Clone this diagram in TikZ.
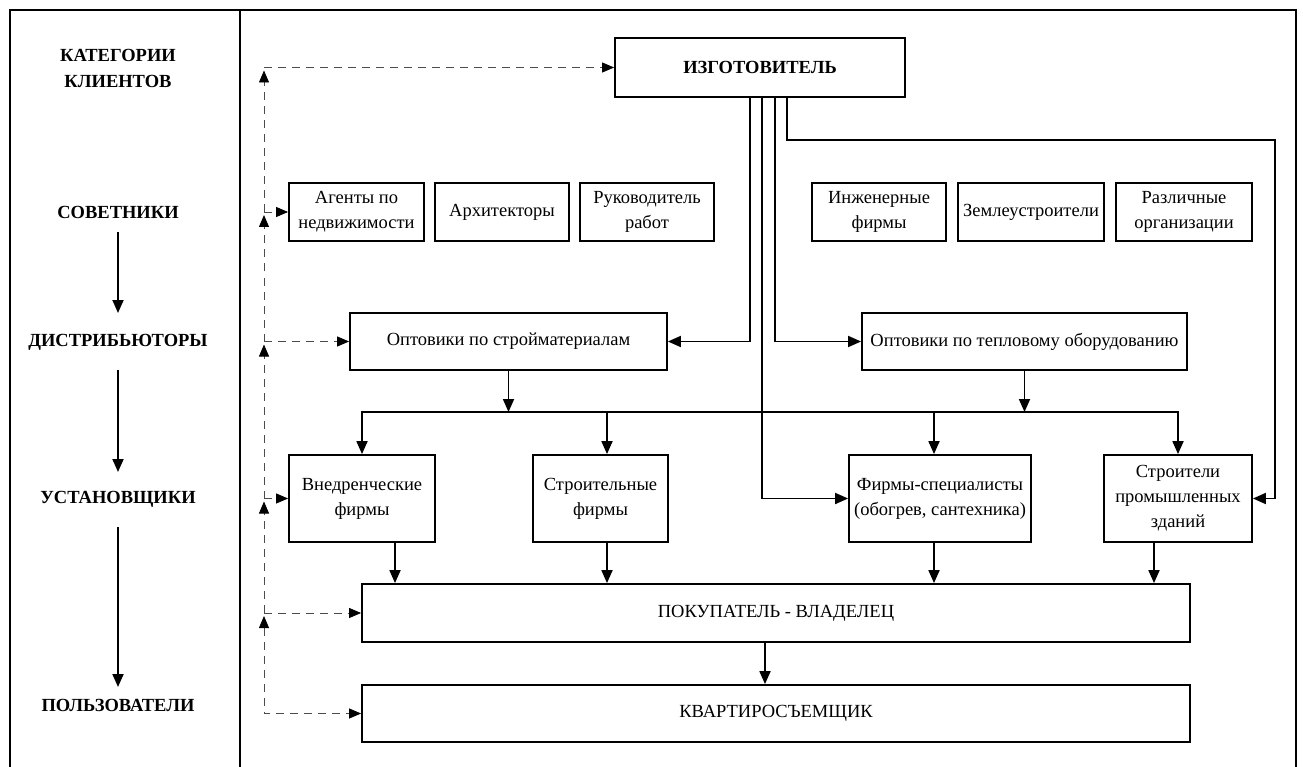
\documentclass[tikz,border=0pt]{standalone}
\usepackage{fontspec}
\setmainfont{Liberation Serif}
\usetikzlibrary{arrows.meta}
\begin{document}
\begin{tikzpicture}[x=1pt,y=-1pt,
  box/.style={draw, line width=1.8pt, inner sep=0pt, align=center,
    font=\fontsize{18.5}{25}\selectfont},
  lbl/.style={inner sep=0pt, align=center, font=\fontsize{18.5}{26}\selectfont\bfseries},
  stip/.tip={Triangle[length=13pt,width=11pt]},
  conn/.style={line width=1.8pt, -{stip}},
  dsh/.style={line width=0.8pt, black!70, dash pattern=on 8pt off 6pt},
  dtip/.tip={Triangle[length=12pt,width=10pt,black]}
]
\useasboundingbox (0,0) rectangle (1303,767);

% outer frame and column divider
\draw[line width=1.8pt] (10,767) -- (10,10) -- (1296,10) -- (1296,767);
\draw[line width=1.8pt] (240,10) -- (240,767);

% client categories (left column)
\node[lbl] (cat) at (118,68) {КАТЕГОРИИ\\КЛИЕНТОВ};
\node[lbl] (sov) at (118,212) {СОВЕТНИКИ};
\node[lbl] (dis) at (118,342) {ДИСТРИБЬЮТОРЫ};
\node[lbl] (ust) at (118,499) {УСТАНОВЩИКИ};
\node[lbl] (pol) at (118,705) {ПОЛЬЗОВАТЕЛИ};

\draw[conn] ([yshift=-20pt]sov.center) -- ([yshift=29pt]dis.center);
\draw[conn] ([yshift=-28pt]dis.center) -- ([yshift=27pt]ust.center);
\draw[conn] ([yshift=-28pt]ust.center) -- ([yshift=18pt]pol.center);

% manufacturer
\node[box, minimum width=290pt, minimum height=59pt, font=\fontsize{18.5}{25}\selectfont\bfseries]
  (izg) at (760,67.5) {ИЗГОТОВИТЕЛЬ};

% advisers
\node[box, minimum width=135pt, minimum height=58pt] (ag)   at (356.5,212) {Агенты по\\недвижимости};
\node[box, minimum width=134pt, minimum height=58pt] (arch) at (502,212)   {Архитекторы};
\node[box, minimum width=134pt, minimum height=58pt] (ruk)  at (647,212)   {Руководитель\\работ};
\node[box, minimum width=134pt, minimum height=58pt] (ing)  at (879,212)   {Инженерные\\фирмы};
\node[box, minimum width=146pt, minimum height=58pt] (zem)  at (1031,212)  {Землеустроители};
\node[box, minimum width=136pt, minimum height=58pt] (raz)  at (1184,212)  {Различные\\организации};

% distributors
\node[box, minimum width=317pt, minimum height=57pt] (optS) at (508.5,341.5) {Оптовики по стройматериалам};
\node[box, minimum width=325pt, minimum height=57pt] (optT) at (1024.5,341.5) {Оптовики по тепловому оборудованию};

% installers
\node[box, minimum width=146pt, minimum height=87pt] (vned)   at (362,498.5)  {Внедренческие\\фирмы};
\node[box, minimum width=135pt, minimum height=87pt] (stroit) at (600.5,498.5) {Строительные\\фирмы};
\node[box, minimum width=182pt, minimum height=87pt] (firm)   at (940,498.5)  {Фирмы-специалисты\\(обогрев, сантехника)};
\node[box, minimum width=148pt, minimum height=87pt] (stroi)  at (1178,498.5) {Строители\\промышленных\\зданий};

% users
\node[box, minimum width=828pt, minimum height=58pt] (pok) at (776,613)   {ПОКУПАТЕЛЬ - ВЛАДЕЛЕЦ};
\node[box, minimum width=828pt, minimum height=57pt] (kv)  at (776,713.5) {КВАРТИРОСЪЕМЩИК};

% lines leaving the manufacturer
\coordinate (rtop) at (1275,140);
\draw[conn] ([xshift=-10pt]izg.south) |- (optS.east);
\draw[conn] ([xshift=2pt]izg.south)   |- (firm.west);
\draw[conn] ([xshift=15pt]izg.south)  |- (optT.west);
\draw[conn] ([xshift=27pt]izg.south)  |- (rtop) |- (stroi.east);

% distribution bus
\coordinate (busL) at (362,412);
\coordinate (busR) at (1178,412);
\draw[line width=1.8pt, {stip}-{stip}]
  (stroi.north) -- (busR) -- (busL) -- (vned.north);
\draw[conn] (optS.south) -- (optS.south |- busL);
\draw[conn] (optT.south) -- (optT.south |- busL);
\draw[conn] ([xshift=6.5pt]stroit.north |- busL) -- ([xshift=6.5pt]stroit.north);
\draw[conn] ([xshift=-6pt]firm.north |- busL) -- ([xshift=-6pt]firm.north);

% installers to owner, owner to tenant
\draw[conn] ([xshift=33pt]vned.south)   -- ([xshift=33pt]vned.south |- pok.north);
\draw[conn] ([xshift=6.5pt]stroit.south) -- ([xshift=6.5pt]stroit.south |- pok.north);
\draw[conn] ([xshift=-6pt]firm.south)   -- ([xshift=-6pt]firm.south |- pok.north);
\draw[conn] ([xshift=-24pt]stroi.south) -- ([xshift=-24pt]stroi.south |- pok.north);
\draw[conn] ([xshift=-11pt]pok.south)   -- ([xshift=-11pt]pok.south |- kv.north);

% dashed feedback line on the left
\coordinate (dv) at (264,0);
\coordinate (L0) at (dv |- izg.west);
\coordinate (L1) at (dv |- ag.west);
\coordinate (L2) at (dv |- optS.west);
\coordinate (L3) at (dv |- vned.west);
\coordinate (L4) at (dv |- pok.west);
\coordinate (L5) at (dv |- kv.west);

\draw[dsh, -{dtip}] (L0) -- (izg.west);
\draw[dsh, -{dtip}] (L1) -- (ag.west);
\draw[dsh, -{dtip}] (L2) -- (optS.west);
\draw[dsh, -{dtip}] (L3) -- (vned.west);
\draw[dsh, -{dtip}] (L4) -- (pok.west);
\draw[dsh, {dtip}-{dtip}] ([yshift=-3pt]L4) -- (L5) -- (kv.west);
\draw[dsh, -{dtip}] (L1) -- ([yshift=-3pt]L0);
\draw[dsh, -{dtip}] (L2) -- ([yshift=-3pt]L1);
\draw[dsh, -{dtip}] (L3) -- ([yshift=-3pt]L2);
\draw[dsh, -{dtip}] (L4) -- ([yshift=-3pt]L3);
\end{tikzpicture}
\end{document}
